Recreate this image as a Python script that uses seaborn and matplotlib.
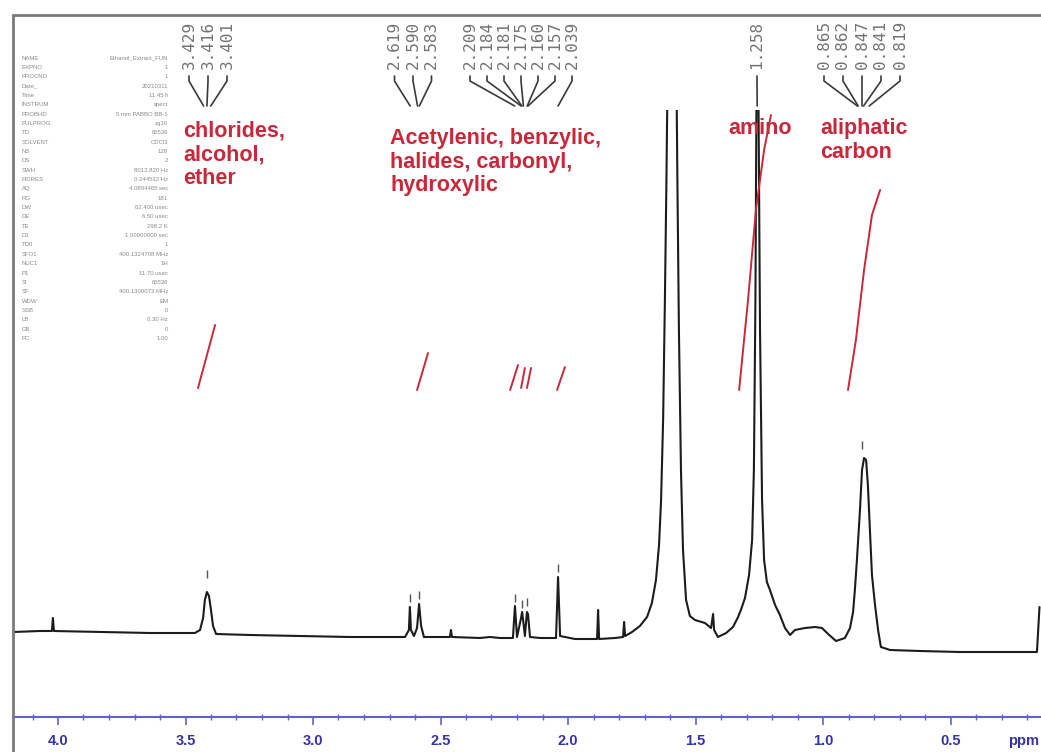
import numpy as np
import pandas as pd
import matplotlib
matplotlib.use("Agg")
import matplotlib.pyplot as plt
from matplotlib.patches import Rectangle
from matplotlib.lines import Line2D
from matplotlib.ticker import MultipleLocator, FormatStrFormatter
import seaborn as sns

# ---------------- data: 1H NMR trace ----------------
ppm = [4.176, 4.071, 4.024, 4.020, 4.016, 3.835, 3.639, 3.463, 3.443, 3.431,
       3.424, 3.416, 3.408, 3.400, 3.392, 3.380, 3.247, 3.051, 2.855, 2.639,
       2.624, 2.620, 2.616, 2.604, 2.592, 2.584, 2.576, 2.565, 2.463, 2.459,
       2.455, 2.345, 2.306, 2.267, 2.216, 2.208, 2.200, 2.184, 2.180, 2.176,
       2.169, 2.161, 2.157, 2.149, 2.110, 2.047, 2.039, 2.031, 1.973, 1.886,
       1.882, 1.878, 1.816, 1.784, 1.780, 1.776, 1.749, 1.718, 1.690, 1.671,
       1.655, 1.643, 1.635, 1.627, 1.620, 1.614, 1.608, 1.592, 1.576, 1.571,
       1.565, 1.557, 1.549, 1.537, 1.522, 1.502, 1.463, 1.439, 1.431, 1.427,
       1.412, 1.380, 1.353, 1.333, 1.322, 1.306, 1.290, 1.278, 1.271, 1.265,
       1.261, 1.257, 1.253, 1.247, 1.239, 1.231, 1.220, 1.208, 1.188, 1.169,
       1.149, 1.129, 1.110, 1.071, 1.031, 1.004, 0.980, 0.949, 0.914, 0.894,
       0.882, 0.875, 0.867, 0.855, 0.847, 0.839, 0.831, 0.824, 0.816, 0.808,
       0.796, 0.784, 0.773, 0.737, 0.620, 0.463, 0.306, 0.161, 0.151]
intensity = [8, 9, 9, 22, 9, 8, 7, 7, 10, 22,
             40, 48, 44, 30, 14, 6, 5, 4, 3, 3,
             10, 33, 10, 4, 12, 36, 14, 3, 3, 10,
             3, 2, 3, 2, 2, 34, 3, 22, 28, 20,
             4, 28, 26, 3, 2, 2, 63, 4, 1, 1,
             30, 1, 2, 3, 18, 4, 8, 14, 23, 37,
             60, 95, 140, 220, 340, 460, 600, 840, 600, 460,
             310, 170, 90, 40, 24, 20, 17, 12, 26, 10,
             3, 7, 13, 23, 30, 42, 65, 100, 170, 340,
             540, 740, 540, 310, 140, 80, 58, 50, 35, 25,
             12, 5, 10, 12, 13, 12, 6, -1, 2, 12,
             28, 50, 80, 130, 170, 182, 180, 155, 110, 65,
             35, 10, -7, -10, -11, -12, -12, -12, 33]

# picked peaks (labels at the top)
peak_groups = [
    [3.429, 3.416, 3.401],
    [2.619, 2.590, 2.583],
    [2.209, 2.184, 2.181, 2.175, 2.160, 2.157, 2.039],
    [1.258],
    [0.865, 0.862, 0.847, 0.841, 0.819],
]

# peak-pick tick marks above peaks
mark_ppm = [3.416, 2.619, 2.583, 2.209, 2.181, 2.160, 2.039, 0.847]
mark_int = [66, 42, 45, 42, 36, 38, 72, 195]

# integral traces (red)
integral_ppm = [[3.451, 3.384], [2.592, 2.549], [2.227, 2.196],
                [2.184, 2.169], [2.161, 2.145], [2.043, 2.012],
                [1.329, 1.294, 1.263, 1.231, 1.204],
                [0.902, 0.871, 0.839, 0.808, 0.776]]
integral_val = [[252, 315], [250, 287], [250, 275],
                [252, 272], [252, 272], [250, 273],
                [250, 340, 430, 490, 525],
                [250, 300, 370, 425, 450]]

group_names = ["chlorides,\nalcohol,\nether",
               "Acetylenic, benzylic,\nhalides, carbonyl,\nhydroxylic",
               "amino",
               "aliphatic\ncarbon"]

param_names = ["NAME", "EXPNO", "PROCNO", "Date_", "Time", "INSTRUM", "PROBHD",
               "PULPROG", "TD", "SOLVENT", "NS", "DS", "SWH", "FIDRES", "AQ",
               "RG", "DW", "DE", "TE", "D1", "TD0", "SFO1", "NUC1", "P1", "SI",
               "SF", "WDW", "SSB", "LB", "GB", "PC"]
param_values = ["Ethanol_Extract_FUN", "1", "1", "20210311", "11.45 h", "spect",
                "5 mm PABBO BB-1", "zg30", "65536", "CDCl3", "128", "2",
                "8012.820 Hz", "0.244532 Hz", "4.0894465 sec", "181",
                "62.400 usec", "6.50 usec", "298.2 K", "1.00000000 sec", "1",
                "400.1324708 MHz", "1H", "11.70 usec", "65536",
                "400.1300073 MHz", "EM", "0", "0.30 Hz", "0", "1.00"]

# ---------------- layout helpers (pixel -> data) ----------------
W, H = 1041, 752


def px2ppm(x):
    return 4.0 - (x - 58) / 255.0


def py2int(y):
    return 640 - y


sns.set_theme(style="white")
plt.rcParams["font.family"] = ["Liberation Sans", "DejaVu Sans"]

fig = plt.figure(figsize=(W / 100, H / 100), dpi=100)
ax = fig.add_axes([13 / W, 1 - 717 / H, 1 - 13 / W, (717 - 15) / H])
ax.set_facecolor("white")

df = pd.DataFrame({"ppm": ppm, "intensity": intensity})
sns.lineplot(data=df, x="ppm", y="intensity", sort=False, estimator=None,
             color="#1c1c1c", linewidth=1.5, ax=ax)
clip = Rectangle((0.0, -200), 5.0, 200 + py2int(110), transform=ax.transData)
ax.lines[0].set_clip_path(clip)

ax.set_xlim(px2ppm(13), px2ppm(1041))
ax.set_ylim(py2int(717), py2int(15))

# peak-pick marks
ax.scatter(mark_ppm, mark_int, marker="|", s=40, color="#555555", linewidths=1.0)

# integrals
red = "#c8283a"
for xs, ys in zip(integral_ppm, integral_val):
    ax.plot(xs, ys, color=red, lw=1.4, solid_capstyle="round")

# peak labels with leader lines
label_centers = [208, 413, 521, 757, 862]
label_spacing = [19, 18.5, 17, 19, 19]
gray = "#737373"
for grp, cpx, sp in zip(peak_groups, label_centers, label_spacing):
    n = len(grp)
    for i, p in enumerate(grp):
        lx = cpx + (i - (n - 1) / 2) * sp
        ax.text(px2ppm(lx), py2int(21), f"{p:.3f}", rotation=90, ha="center",
                va="top", fontsize=11.5, color=gray,
                family=["DejaVu Sans Mono"])
        ax.plot([px2ppm(lx), px2ppm(lx), p], [py2int(76), py2int(81), py2int(106)],
                color="#3a3a3a", lw=1.2)

# red group captions
cap_pos = [(183, 121), (390, 128), (728, 118), (820, 118)]
for txt, (cx, cy) in zip(group_names, cap_pos):
    ax.text(px2ppm(cx), py2int(cy), txt, ha="left", va="top", fontsize=15.5,
            fontweight="bold", color=red, linespacing=1.17)

# parameter block
for i, (nm, val) in enumerate(zip(param_names, param_values)):
    yy = py2int(58 + i * 9.35)
    ax.text(px2ppm(22), yy, nm, ha="left", va="center", fontsize=4.3, color="#8a8a8a")
    ax.text(px2ppm(168), yy, val, ha="right", va="center", fontsize=4.3, color="#8a8a8a")

# axes styling
blue = "#6060d0"
for s in ["left", "right", "top"]:
    ax.spines[s].set_visible(False)
ax.spines["bottom"].set_color(blue)
ax.spines["bottom"].set_linewidth(1.5)
ax.set_yticks([])
ax.set_ylabel("")
ax.set_xlabel("")
ax.xaxis.set_major_locator(MultipleLocator(0.5))
ax.xaxis.set_minor_locator(MultipleLocator(0.1))
ax.xaxis.set_major_formatter(FormatStrFormatter("%.1f"))
ax.tick_params(axis="x", which="major", direction="out", length=5.5, width=1.2,
               color=blue, labelcolor="#3434a8", pad=6.5, labelsize=10.5, bottom=True)
ax.tick_params(axis="x", which="minor", direction="inout", length=4, width=1.0,
               color=blue, bottom=True)
for lbl in ax.get_xticklabels():
    lbl.set_fontweight("bold")
fig.text(1008 / W, 1 - 741 / H, "ppm", ha="left", va="center", fontsize=10.5,
         fontweight="bold", color="#3434a8")

# gray frame (top and left)
fig.add_artist(Line2D([13 / W, 13 / W], [1 - 15 / H, 0], transform=fig.transFigure,
                      color="#7a7a7a", lw=2))
fig.add_artist(Line2D([13 / W, 1], [1 - 15 / H, 1 - 15 / H], transform=fig.transFigure,
                      color="#7a7a7a", lw=2))

fig.savefig("out.png", dpi=100, facecolor="white")
